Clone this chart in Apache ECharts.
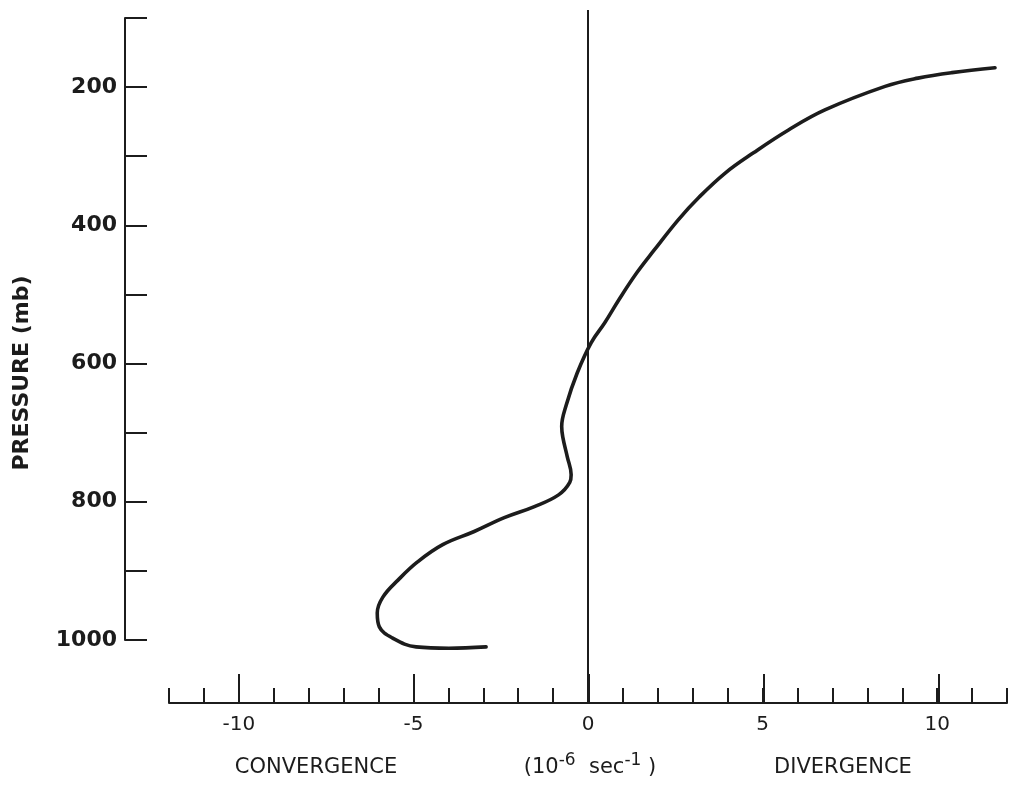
<!DOCTYPE html>
<html>
<head>
<meta charset="utf-8">
<script src="https://cdn.jsdelivr.net/npm/echarts@6/dist/echarts.min.js"></script>
<style>html,body{margin:0;padding:0;background:#fff}#c{width:1010px;height:785px}</style>
</head>
<body>
<div id="c"></div>
<script>
// Divergence profile (10^-6 s^-1) vs pressure (mb), traced from bottom end to top end
const divergence = [-2.94, -4.00, -4.94, -5.62, -5.99, -6.05, -5.89, -5.45, -4.90, -4.18, -3.28, -2.42, -1.56, -0.87, -0.55, -0.51, -0.62, -0.75, -0.78, -0.65, -0.34, 0.06, 0.45, 0.85, 1.36, 1.86, 2.55, 3.15, 3.90, 4.70, 5.70, 6.74, 8.46, 9.40, 10.37, 11.60];
const pressure   = [1010, 1012, 1010, 997, 981, 961, 938, 913, 887, 862, 843, 823, 807, 790, 772, 761, 735, 706, 691, 660, 614, 570, 541, 508, 469, 436, 392, 359, 324, 295, 262, 233, 199, 187, 179, 172];
const pressureTicks = [100, 1000, 100];      // min, max, interval
const divergenceRange = [-12, 12, 1];        // min, max, interval (minor ticks)
const majorTickRange = [-10, 10, 5];         // long ticks
const zeroLine = [[0, 0], [0, 1]];

const ink = '#1c1c1c';
const gridLeft = 169, gridW = 840;
const unit = gridW / (divergenceRange[1] - divergenceRange[0]);

const chart = echarts.init(document.getElementById('c'), null, {renderer: 'canvas'});
chart.setOption({
  backgroundColor: '#ffffff',
  animation: false,
  grid: [
    {left: gridLeft, top: 18, width: gridW, height: 622},
    {left: gridLeft, top: 10, width: gridW, height: 693},
    {left: gridLeft + (majorTickRange[0] - divergenceRange[0]) * unit, top: 10,
     width: (majorTickRange[1] - majorTickRange[0]) * unit, height: 693}
  ],
  xAxis: [
    {gridIndex: 0, type: 'value', min: divergenceRange[0], max: divergenceRange[1], show: false},
    {gridIndex: 1, type: 'value', min: divergenceRange[0], max: divergenceRange[1], interval: divergenceRange[2],
      axisLine: {show: true, onZero: false, lineStyle: {color: ink, width: 2}},
      axisTick: {show: true, inside: true, length: 15, lineStyle: {color: ink, width: 2}},
      splitLine: {show: false},
      axisLabel: {show: true, margin: 12, color: ink, fontFamily: 'DejaVu Sans', fontSize: 20,
        formatter: v => (v % 5 === 0 && Math.abs(v) <= 10) ? String(v) : ''}
    },
    {gridIndex: 2, type: 'value', min: majorTickRange[0], max: majorTickRange[1], interval: majorTickRange[2],
      axisLine: {show: false, onZero: false},
      axisTick: {show: true, inside: true, length: 29, lineStyle: {color: ink, width: 2}},
      splitLine: {show: false}, axisLabel: {show: false}
    }
  ],
  yAxis: [
    {gridIndex: 0, type: 'value', inverse: true, min: pressureTicks[0], max: pressureTicks[1], interval: pressureTicks[2],
      offset: 44,
      axisLine: {show: true, onZero: false, lineStyle: {color: ink, width: 2}},
      axisTick: {show: true, inside: true, length: 22, lineStyle: {color: ink, width: 2}},
      splitLine: {show: false},
      axisLabel: {show: true, margin: 8, color: ink, fontFamily: 'DejaVu Sans', fontWeight: 'bold', fontSize: 22,
        formatter: v => (v % 200 === 0) ? String(v) : ''}
    },
    {gridIndex: 1, type: 'value', min: 0, max: 1, show: false},
    {gridIndex: 2, type: 'value', min: 0, max: 1, show: false}
  ],
  series: [
    {type: 'line', xAxisIndex: 1, yAxisIndex: 1, data: zeroLine, showSymbol: false, symbol: 'none',
      lineStyle: {color: ink, width: 2}, silent: true},
    {type: 'line', xAxisIndex: 0, yAxisIndex: 0, clip: false, smooth: 0.4, showSymbol: false, symbol: 'none',
      data: divergence.map((d, i) => [d, pressure[i]]),
      lineStyle: {color: ink, width: 3.6, cap: 'round', join: 'round'}}
  ],
  graphic: [
    {type: 'text', x: 22, y: 373, rotation: Math.PI / 2,
      style: {text: 'PRESSURE (mb)', fill: ink, font: 'bold 22px "DejaVu Sans"', align: 'center', verticalAlign: 'middle'}},
    {type: 'text', x: 316, y: 768,
      style: {text: 'CONVERGENCE', fill: ink, font: '21px "DejaVu Sans"', align: 'center', verticalAlign: 'middle'}},
    {type: 'text', x: 843, y: 768,
      style: {text: 'DIVERGENCE', fill: ink, font: '21px "DejaVu Sans"', align: 'center', verticalAlign: 'middle'}},
    {type: 'text', x: 590, y: 768,
      style: {rich: {
        n: {fontFamily: 'DejaVu Sans', fontSize: 21, fill: ink},
        s: {fontFamily: 'DejaVu Sans', fontSize: 17, fill: ink, verticalAlign: 'bottom', padding: [0, 0, 14, 0]}
      }, text: '{n|(10}{s|-6}{n|  sec}{s|-1}{n| )}', align: 'center', verticalAlign: 'middle'}}
  ]
});
</script>
</body>
</html>
